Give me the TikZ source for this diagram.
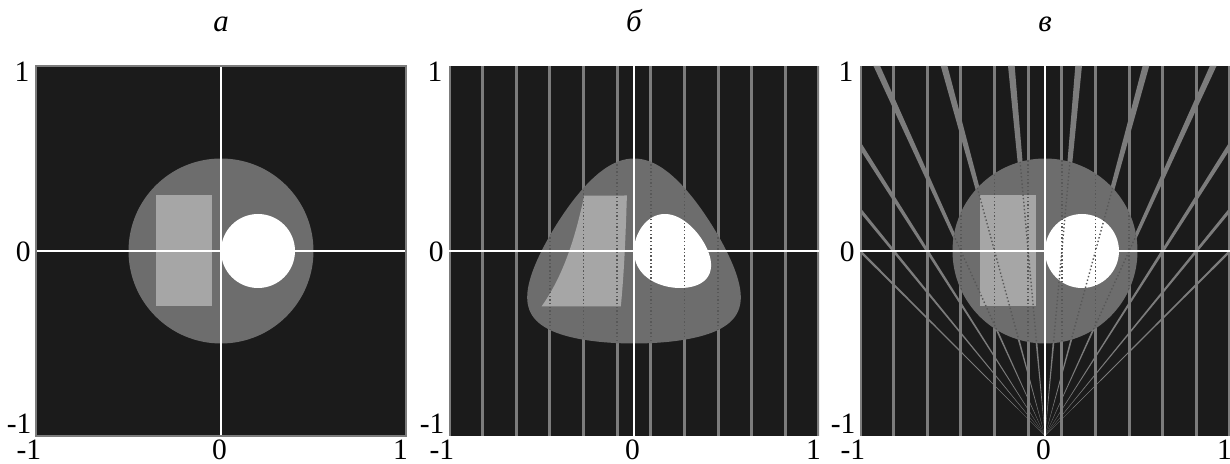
\documentclass[tikz,border=0pt]{standalone}
\usepackage{fontspec}
\setmainfont{Liberation Serif}
\usetikzlibrary{positioning}
\definecolor{bgdark}{HTML}{1B1B1B}
\definecolor{discgray}{HTML}{6D6D6D}
\definecolor{rectgray}{HTML}{A6A6A6}
\definecolor{stripegray}{HTML}{7C7C7C}
\definecolor{dotgray}{HTML}{585858}
\tikzset{
    field/.style={fill=bgdark},
    disc/.style={fill=discgray},
    block/.style={fill=rectgray},
    hole/.style={fill=white},
    axis/.style={draw=white, line width=0.5pt},
    stripe/.style={draw=stripegray, line width=1.1pt},
    ray/.style={fill=stripegray},
    trace/.style={draw=dotgray, line width=0.5pt, dash pattern=on 0.5pt off 0.8pt},
    ticklbl/.style={inner sep=0pt, text height=0.68em, text depth=0pt, font=\fontsize{10.5}{12}\selectfont},
    paneltitle/.style={inner sep=0pt, anchor=base, font=\fontsize{11}{13}\selectfont\itshape}
}
% tick labels of one panel, #1 = name prefix
\newcommand{\ticklabels}[1]{%
    \node[ticklbl, anchor=base east, xshift=-0.075cm, yshift=-0.2cm] (#1ytop) at (-1,1) {1};
    \node[ticklbl, anchor=base east, xshift=-0.06cm, yshift=-0.13cm] (#1ymid) at (-1,0) {0};
    \node[ticklbl, anchor=base east, xshift=-0.05cm, yshift=0.03cm] (#1ybot) at (-1,-1) {-1};
    \node[ticklbl, anchor=base, xshift=-0.09cm, yshift=-0.3cm] (#1xleft) at (-1,-1) {-1};
    \node[ticklbl, anchor=base, xshift=-0.02cm, yshift=-0.3cm] (#1xmid) at (0,-1) {0};
    \node[ticklbl, anchor=base, xshift=-0.07cm, yshift=-0.3cm] (#1xright) at (1,-1) {1};
}

\begin{document}
\begin{tikzpicture}
    \useasboundingbox (0,0) rectangle (15.375,5.8);

    % panel a: the object
    \begin{scope}[shift={(2.7625cm,2.6625cm)}, x=2.3125cm, y=2.3125cm]
        \fill[field] (-1,-1) rectangle (1,1);
        \fill[disc] (0,0) circle[radius=0.5];
        \fill[block] (-0.35,-0.3) rectangle (-0.05,0.3);
        \fill[hole] (0.2,0) circle[radius=0.2];
        \draw[axis] (-1,0) -- (1,0);
        \draw[axis] (0,-1) -- (0,1);
        \draw[stripegray, line width=0.4pt] (-1,-1) rectangle (1,1);
        \node[paneltitle] (atitle) at (0,1.184) {а};
        \ticklabels{a}
    \end{scope}

    % panel b: parallel beams
    \begin{scope}[shift={(7.925cm,2.6625cm)}, x=2.3125cm, y=2.3125cm]
        \fill[field] (-1,-1) rectangle (1,1);
        \begin{scope}
            \clip (-1,-1) rectangle (1,1);
            \foreach \k in {-11,-9,...,11}
                \draw[stripe] ({\k/11},-1) -- ({\k/11},1);
        \end{scope}
        \fill[disc] plot[domain=0:360, samples=160, smooth] ({0.5*cos(\x)/(1+0.5*sin(\x))},{0.5*sin(\x)}) -- cycle;
        \fill[block] plot[domain=0.3:-0.3, samples=30] ({-0.05/(1+\x)},\x)
            -- plot[domain=-0.3:0.3, samples=30] ({-0.35/(1+\x)},\x) -- cycle;
        \fill[hole] plot[domain=0:360, samples=120, smooth] ({(0.2+0.2*cos(\x))/(1+0.2*sin(\x))},{0.2*sin(\x)}) -- cycle;
        \begin{scope}
            \clip plot[domain=0:360, samples=160, smooth] ({0.5*cos(\x)/(1+0.5*sin(\x))},{0.5*sin(\x)}) -- cycle;
            \foreach \k in {-9,-7,...,9}
                \draw[trace] ({\k/11},-1) -- ({\k/11},1);
        \end{scope}
        \draw[axis] (-1,0) -- (1,0);
        \draw[axis] (0,-1) -- (0,1);
        \node[paneltitle] (btitle) at (0,1.184) {б};
        \ticklabels{b}
    \end{scope}

    % panel v: fan beams
    \begin{scope}[shift={(13.0625cm,2.6625cm)}, x=2.3125cm, y=2.3125cm]
        \fill[field] (-1,-1) rectangle (1,1);
        \begin{scope}
            \clip (-1,-1) rectangle (1,1);
            \foreach \k in {-11,-9,...,11}
                \draw[stripe] ({\k/11},-1) -- ({\k/11},1);
            \foreach \k in {-11,-9,...,11}
                \fill[ray] (0,-1) -- ({2*\k/11-0.018},1) -- ({2*\k/11+0.018},1) -- cycle;
        \end{scope}
        \fill[disc] (0,0) circle[radius=0.5];
        \fill[block] (-0.35,-0.3) rectangle (-0.05,0.3);
        \fill[hole] (0.2,0) circle[radius=0.2];
        \begin{scope}
            \clip (0,0) circle[radius=0.5];
            \foreach \k in {-9,-7,...,9}
                \draw[trace] ({\k/11},-1) -- ({\k/11},1);
            \foreach \k in {-11,-9,...,11}
                \draw[trace] (0,-1) -- ({2*\k/11},1);
        \end{scope}
        \draw[axis] (-1,0) -- (1,0);
        \draw[axis] (0,-1) -- (0,1);
        \node[paneltitle] (vtitle) at (0,1.184) {в};
        \ticklabels{v}
    \end{scope}
\end{tikzpicture}
\end{document}
